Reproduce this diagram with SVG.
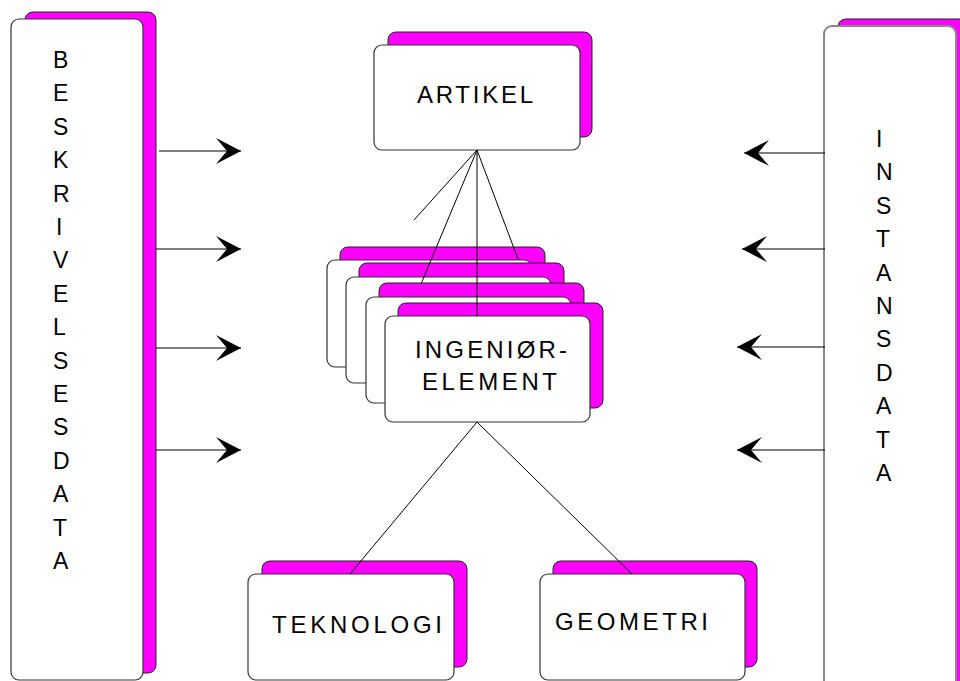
<svg xmlns="http://www.w3.org/2000/svg" width="960" height="681" viewBox="0 0 960 681">
<style>
.bg{fill:#ffffff}
.sh{fill:#ff00ff;stroke:#222;stroke-width:1}
.bx{fill:#ffffff;stroke:#333;stroke-width:1.2}
.bxg{fill:#ffffff;stroke:#888;stroke-width:2}
.t{font-family:"Liberation Sans","Noto Sans",Arial,sans-serif;font-size:24px;fill:#000}
.v{font-family:"Liberation Sans","Noto Sans",Arial,sans-serif;font-size:23px;fill:#000}
.ln{stroke:#000;stroke-width:1;fill:none}
.ar{stroke:#000;stroke-width:1.2;fill:none;marker-end:url(#head)}
</style>
<defs>
<marker id="head" viewBox="0 0 25 26" refX="25" refY="13" markerWidth="25" markerHeight="26" markerUnits="userSpaceOnUse" orient="auto">
<path d="M0,0 L25,13 L0,26 L11,13 Z" fill="#000"/>
</marker>
</defs>
<rect class="bg" x="0" y="0" width="960" height="681"/>

<g id="beskrivelsesdata">
<rect class="sh" x="25" y="12" width="131" height="661" rx="8"/>
<rect class="bx" x="11" y="19" width="132" height="661" rx="8"/>
<g class="v">
<text x="53" y="68">B</text>
<text x="53" y="101.4">E</text>
<text x="53" y="134.8">S</text>
<text x="53" y="168.2">K</text>
<text x="53" y="201.6">R</text>
<text x="56" y="235">I</text>
<text x="53" y="268.4">V</text>
<text x="53" y="301.8">E</text>
<text x="53" y="335.2">L</text>
<text x="53" y="368.6">S</text>
<text x="53" y="402">E</text>
<text x="53" y="435.4">S</text>
<text x="53" y="468.8">D</text>
<text x="53" y="502.2">A</text>
<text x="53" y="535.6">T</text>
<text x="53" y="569">A</text>
</g>
</g>

<g id="instansdata">
<rect class="sh" x="838" y="19" width="140" height="700" rx="8"/>
<rect class="bxg" x="824" y="26" width="132" height="700" rx="8"/>
<g class="v">
<text x="876" y="147">I</text>
<text x="876" y="180.4">N</text>
<text x="876" y="213.8">S</text>
<text x="876" y="247.2">T</text>
<text x="876" y="280.6">A</text>
<text x="876" y="314">N</text>
<text x="876" y="347.4">S</text>
<text x="876" y="380.8">D</text>
<text x="876" y="414.2">A</text>
<text x="876" y="447.6">T</text>
<text x="876" y="481">A</text>
</g>
</g>

<g id="artikel">
<rect class="sh" x="388" y="32" width="204" height="105" rx="8"/>
<rect class="bx" x="374" y="45" width="206" height="105" rx="8"/>
<text class="t" x="417" y="103" textLength="116" lengthAdjust="spacing">ARTIKEL</text>
</g>

<g id="ingeniorelement">
<rect class="sh" x="340" y="247" width="205" height="106" rx="8"/>
<rect class="bx" x="327" y="260" width="205" height="107" rx="8"/>
<rect class="sh" x="359" y="263" width="205" height="106" rx="8"/>
<rect class="bx" x="346" y="277" width="205" height="106" rx="8"/>
<rect class="sh" x="379" y="283" width="205" height="106" rx="8"/>
<rect class="bx" x="366" y="297" width="205" height="106" rx="8"/>
<rect class="sh" x="398" y="303" width="205" height="105" rx="8"/>
<rect class="bx" x="385" y="316" width="205" height="106" rx="8"/>
<text class="t" x="415" y="358" textLength="152" lengthAdjust="spacing">INGENIØR-</text>
<text class="t" x="422" y="390" textLength="135" lengthAdjust="spacing">ELEMENT</text>
</g>

<g id="teknologi">
<rect class="sh" x="262" y="561" width="205" height="106" rx="8"/>
<rect class="bx" x="248" y="574" width="206" height="106" rx="8"/>
<text class="t" x="272" y="633" textLength="170" lengthAdjust="spacing">TEKNOLOGI</text>
</g>

<g id="geometri">
<rect class="sh" x="553" y="561" width="204" height="106" rx="8"/>
<rect class="bx" x="540" y="574" width="205" height="106" rx="8"/>
<text class="t" x="555" y="630" textLength="153" lengthAdjust="spacing">GEOMETRI</text>
</g>

<g id="connectors">
<line class="ln" x1="477" y1="150" x2="414" y2="220"/>
<line class="ln" x1="477" y1="150" x2="421" y2="284"/>
<line class="ln" x1="477" y1="150" x2="477" y2="316"/>
<line class="ln" x1="477" y1="150" x2="518" y2="259"/>
<line class="ln" x1="477" y1="422" x2="350" y2="574"/>
<line class="ln" x1="477" y1="422" x2="632" y2="574"/>
<line class="ar" x1="159" y1="151" x2="241" y2="151"/>
<line class="ar" x1="156" y1="249" x2="241" y2="249"/>
<line class="ar" x1="156" y1="348" x2="241" y2="348"/>
<line class="ar" x1="156" y1="450" x2="241" y2="450"/>
<line class="ar" x1="825" y1="153" x2="744" y2="153"/>
<line class="ar" x1="825" y1="249" x2="742" y2="249"/>
<line class="ar" x1="825" y1="347" x2="737" y2="347"/>
<line class="ar" x1="825" y1="450" x2="737" y2="450"/>
</g>
</svg>
